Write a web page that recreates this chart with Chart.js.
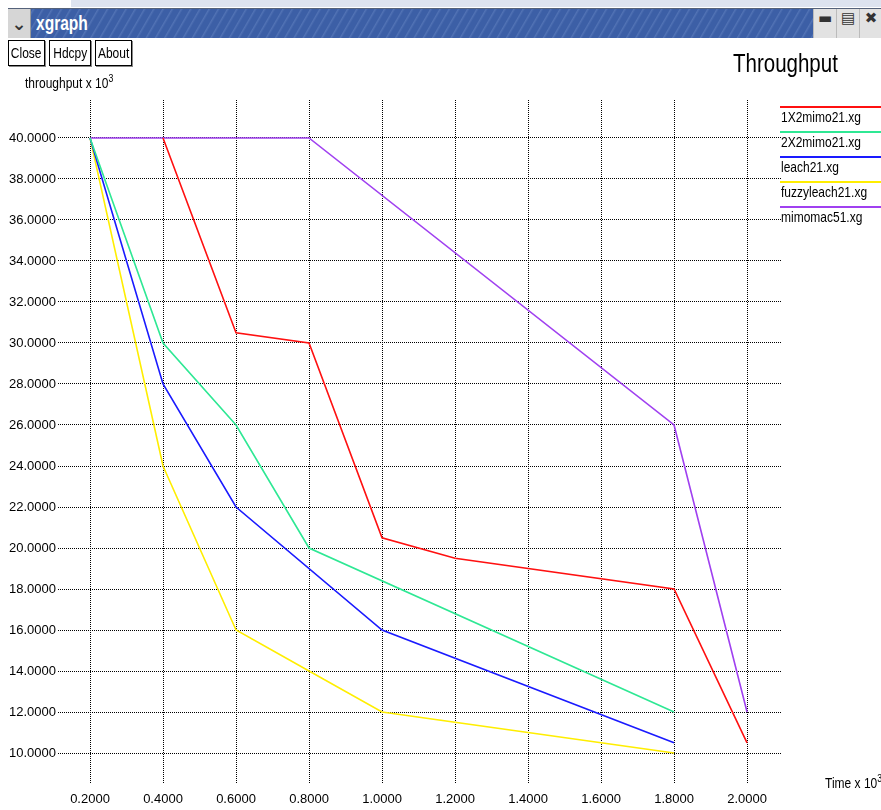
<!DOCTYPE html>
<html>
<head>
<meta charset="utf-8">
<script src="https://cdn.jsdelivr.net/npm/chart.js@4.4.0/dist/chart.umd.min.js"></script>
<style>
  body { margin: 0; background: #fff; }
  #win { position: relative; width: 881px; height: 810px; overflow: hidden; background: #fff;
         font-family: "Liberation Sans", Arial, sans-serif; }
  #topstrip { position: absolute; left: 71px; top: 0; width: 810px; height: 7px; background: #dde3ef; }
  #titlebar { position: absolute; left: 8px; top: 8px; width: 873px; height: 29px; border-top: 1px solid #55627a;
              background: repeating-linear-gradient(120deg, #3c5fa6 0px, #3c5fa6 5px, #5273b5 6px, #3c5fa6 8px); }
  #menu { position: absolute; left: 0; top: 0; width: 22px; height: 29px; background: #d6d6d6; border-right: 1px solid #999;
          font: bold 18px "DejaVu Sans", sans-serif; color: #333; text-align: center; line-height: 29px; }
  #wtitle { position: absolute; left: 28px; top: 2px; color: #fff; font: bold 21px "Liberation Sans", sans-serif;
            transform: scaleX(0.74); transform-origin: left; }
  #wbtns { position: absolute; right: 0; top: 0; width: 68px; height: 29px; background: #e2e2e2; }
  #wbtns span { position: absolute; top: 0; width: 22px; height: 29px; text-align: center; line-height: 29px;
                font: bold 15px "DejaVu Sans", sans-serif; color: #333; border-left: 1px solid #bbb; }
  .btn { position: absolute; top: 40px; height: 24px; border: 1px solid #000; box-shadow: 1px 1px 0 #888;
         font-size: 15px; line-height: 24px; text-align: center; background: #fff; color: #000; overflow: hidden; }
  .btn span, .lbl { display: inline-block; transform: scaleX(0.8); }
  .btn span { transform-origin: center; margin: 0 -10px; }
  .lbl { position: absolute; font-size: 15px; color: #000; white-space: nowrap; transform-origin: left; }
  .lbl sup { font-size: 11px; vertical-align: 6px; line-height: 0; }
  #chart { position: absolute; left: 0; top: 0; }
</style>
</head>
<body>
<div id="win">
  <canvas id="chart" width="881" height="810"></canvas>
  <div id="topstrip"></div>
  <div id="titlebar">
    <div id="menu">&#8964;</div>
    <div id="wtitle">xgraph</div>
    <div id="wbtns"><span style="left:0">&#9644;</span><span style="left:23px">&#9636;</span><span style="left:46px">&#10006;</span></div>
  </div>
  <div class="btn" style="left:8px;width:35px"><span>Close</span></div>
  <div class="btn" style="left:49px;width:40px"><span>Hdcpy</span></div>
  <div class="btn" style="left:95px;width:35px"><span>About</span></div>
  <div class="lbl" style="left:25px;top:74px">throughput x 10<sup>3</sup></div>
  <div class="lbl" style="left:825px;top:774px">Time x 10<sup>3</sup></div>
</div>
<script>
// x values (Time x 10^3) and tick labels
const timeValues = [0.2, 0.4, 0.6, 0.8, 1.0, 1.2, 1.4, 1.6, 1.8, 2.0];
const yTickValues = [10, 12, 14, 16, 18, 20, 22, 24, 26, 28, 30, 32, 34, 36, 38, 40];

// throughput x 10^3, null = no point at that time
const mimo1x2 = [null, 40, 30.5, 30, 20.5, 19.5, null, null, 18, 10.5];
const mimo2x2 = [40, 30, 26, 20, null, null, null, null, 12, null];
const leach = [40, 28, 22, null, 16, null, null, null, 10.5, null];
const fuzzyLeach = [40, 24, 16, 14, 12, null, null, null, 10, null];
const mimomac = [40, 40, 40, 40, null, null, null, null, 26, 12];

const seriesNames = ["1X2mimo21.xg", "2X2mimo21.xg", "leach21.xg", "fuzzyleach21.xg", "mimomac51.xg"];
const seriesColors = ["#ff1010", "#2ee894", "#1a1aff", "#ffee00", "#a040f0"];
const seriesValues = [mimo1x2, mimo2x2, leach, fuzzyLeach, mimomac];

const FONT = '"Liberation Sans", Arial, sans-serif';

function toPoints(vals) {
  let pts = [];
  vals.forEach((v, i) => { if (v !== null) pts.push({ x: timeValues[i], y: v }); });
  return pts;
}

// narrow text: squeeze horizontally like the helvetica narrow of xgraph
function narrowText(c, txt, x, y, sx) {
  c.save();
  c.translate(x, y);
  c.scale(sx, 1);
  c.fillText(txt, 0, 0);
  c.restore();
}

// title and legend drawn like xgraph: line above each name
const xgraphExtras = {
  id: 'xgraphExtras',
  afterDraw(chart) {
    const c = chart.ctx;
    c.save();
    c.fillStyle = '#000';
    c.font = '25px ' + FONT;
    c.textAlign = 'left';
    c.textBaseline = 'alphabetic';
    narrowText(c, 'Throughput', 733, 72, 0.82);
    c.font = '15px ' + FONT;
    c.textBaseline = 'top';
    chart.data.datasets.forEach((ds, i) => {
      let y = 107 + i * 25;
      c.strokeStyle = ds.borderColor;
      c.lineWidth = 2;
      c.beginPath();
      c.moveTo(780, y);
      c.lineTo(881, y);
      c.stroke();
      narrowText(c, ds.label, 781, y + 3, 0.8);
    });
    c.restore();
  }
};

new Chart(document.getElementById('chart'), {
  type: 'line',
  data: {
    datasets: seriesValues.map((vals, i) => ({
      label: seriesNames[i],
      data: toPoints(vals),
      borderColor: seriesColors[i],
      backgroundColor: seriesColors[i],
      borderWidth: 1.6,
      pointRadius: 0,
      tension: 0
    }))
  },
  options: {
    responsive: false,
    animation: false,
    layout: { padding: { top: 100, right: 100, left: 0, bottom: 0 } },
    plugins: { legend: { display: false }, tooltip: { enabled: false }, title: { display: false } },
    scales: {
      x: {
        type: 'linear',
        min: 0.1123,
        max: 2.093,
        afterBuildTicks: s => { s.ticks = timeValues.map(v => ({ value: v })); },
        afterFit: s => { s.height = 27; },
        ticks: { color: '#000', font: { family: FONT, size: 13 }, padding: 9, maxRotation: 0,
                 callback: v => v.toFixed(4) },
        grid: { color: '#000', lineWidth: 1, drawTicks: false },
        border: { display: false, dash: [1, 1] }
      },
      y: {
        min: 8.54,
        max: 41.85,
        afterBuildTicks: s => { s.ticks = yTickValues.map(v => ({ value: v })); },
        afterFit: s => { s.width = 58; },
        ticks: { color: '#000', font: { family: FONT, size: 13 }, padding: 2,
                 callback: v => v.toFixed(4) },
        grid: { color: '#000', lineWidth: 1, drawTicks: false },
        border: { display: false, dash: [1, 1] }
      }
    }
  },
  plugins: [xgraphExtras]
});
</script>
</body>
</html>
